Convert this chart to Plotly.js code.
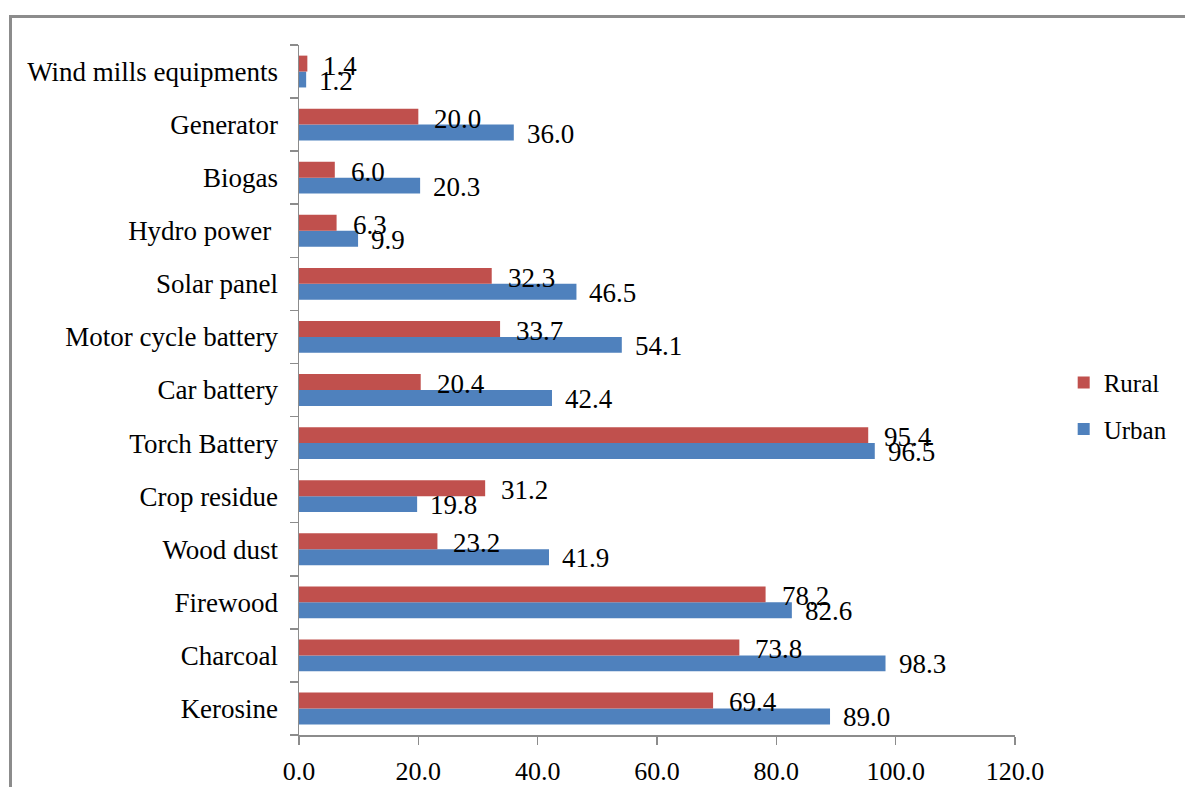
<!DOCTYPE html>
<html>
<head>
<meta charset="utf-8">
<script src="https://cdn.plot.ly/plotly-3.0.1.min.js"></script>
<style>
  html, body { margin: 0; padding: 0; background: #ffffff; }
  #wrap { position: relative; width: 1185px; height: 787px; overflow: hidden; }
  #chart { position: absolute; left: 0; top: 0; width: 1185px; height: 787px; }
  #frame { position: absolute; left: 9px; top: 15px; width: 1200px; height: 800px;
           border-top: 3px solid #8c8c8c; border-left: 3px solid #8c8c8c; pointer-events: none; }
</style>
</head>
<body>
<div id="wrap">
  <div id="chart"></div>
  <div id="frame"></div>
</div>
<script>
// Categories listed bottom to top
const categories = [
  "Kerosine", "Charcoal", "Firewood", "Wood dust", "Crop residue",
  "Torch Battery", "Car battery", "Motor cycle battery", "Solar panel",
  "Hydro power ", "Biogas", "Generator", "Wind mills equipments"
];
const urbanValues = [89.0, 98.3, 82.6, 41.9, 19.8, 96.5, 42.4, 54.1, 46.5, 9.9, 20.3, 36.0, 1.2];
const ruralValues = [69.4, 73.8, 78.2, 23.2, 31.2, 95.4, 20.4, 33.7, 32.3, 6.3, 6.0, 20.0, 1.4];
const xTickValues = [0, 20, 40, 60, 80, 100, 120];

const FONT = "Liberation Serif, Times New Roman, serif";
const BLUE = "#4F81BD";
const RED = "#C0504D";

const traces = [
  {
    type: "bar", orientation: "h", name: "Urban",
    y: categories, x: urbanValues,
    marker: { color: BLUE },
    legendgroup: "u", legendrank: 2, hoverinfo: "x+y"
  },
  {
    type: "bar", orientation: "h", name: "Rural",
    y: categories, x: ruralValues,
    marker: { color: RED },
    legendgroup: "r", legendrank: 1, hoverinfo: "x+y"
  }
];

const annotations = [];
categories.forEach((c, i) => {
  annotations.push({
    x: urbanValues[i], y: c, xref: "x", yref: "y",
    text: urbanValues[i].toFixed(1), showarrow: false,
    xanchor: "left", yanchor: "middle", xshift: 11, yshift: -9,
    font: { family: FONT, size: 27, color: "#000" }
  });
  annotations.push({
    x: ruralValues[i], y: c, xref: "x", yref: "y",
    text: ruralValues[i].toFixed(1), showarrow: false,
    xanchor: "left", yanchor: "middle", xshift: 14, yshift: 6,
    font: { family: FONT, size: 27, color: "#000" }
  });
});

const layout = {
  width: 1185, height: 787,
  margin: { l: 299, r: 170, t: 45, b: 52, pad: 0, autoexpand: false },
  paper_bgcolor: "#ffffff", plot_bgcolor: "#ffffff",
  barmode: "group", bargap: 0.4, bargroupgap: 0,
  font: { family: FONT, size: 27, color: "#000" },
  showlegend: true,
  legend: {
    x: 1.068, y: 0.477, xanchor: "left", yanchor: "middle",
    traceorder: "grouped", tracegroupgap: 11,
    font: { family: FONT, size: 25, color: "#000" },
    itemwidth: 30, bgcolor: "rgba(0,0,0,0)"
  },
  xaxis: {
    range: [0, 120], tickvals: xTickValues, tickformat: ".1f",
    showgrid: false, zeroline: false,
    showline: true, linecolor: "#8c8c8c", linewidth: 1.5,
    ticks: "outside", ticklen: 8, tickcolor: "#8c8c8c", tickwidth: 1.5,
    ticklabelstandoff: 4,
    tickfont: { family: FONT, size: 26, color: "#000" },
    fixedrange: true
  },
  yaxis: {
    type: "category", categoryorder: "array", categoryarray: categories,
    showgrid: false, zeroline: false,
    showline: true, linecolor: "#8c8c8c", linewidth: 1.5,
    ticks: "outside", ticklen: 8, tickcolor: "#8c8c8c", tickwidth: 1.5,
    tickson: "boundaries", ticklabelstandoff: 14,
    tickfont: { family: FONT, size: 27, color: "#000" },
    fixedrange: true
  },
  annotations: annotations
};

Plotly.newPlot("chart", traces, layout, { displayModeBar: false, staticPlot: true });
</script>
</body>
</html>
